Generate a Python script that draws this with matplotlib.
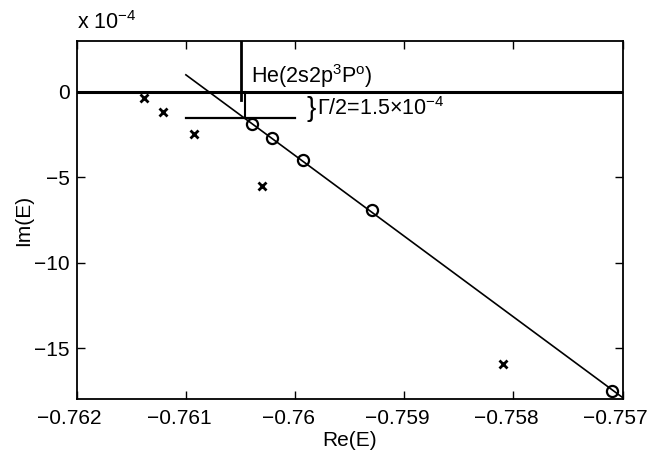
import matplotlib
matplotlib.use("Agg")
import matplotlib.pyplot as plt
from matplotlib.transforms import ScaledTranslation

plt.rcParams['font.family'] = ['Liberation Sans', 'DejaVu Sans']
plt.rcParams['mathtext.fontset'] = 'custom'
plt.rcParams['mathtext.rm'] = 'Liberation Sans'
plt.rcParams['mathtext.it'] = 'Liberation Sans:italic'

# data in units of 1e-4 for Im(E)
circ_re = [-0.760395, -0.760215, -0.759931, -0.7593, -0.757102]
circ_im = [-1.86, -2.68, -4.0, -6.93, -17.5]
cross_re = [-0.761381, -0.761207, -0.760923, -0.760306, -0.758093]
cross_im = [-0.34, -1.18, -2.49, -5.49, -15.95]
fit_re = [-0.761, -0.757]
fit_im = [1.0, -17.9]
half_width = 1.5
thr_re = -0.760495
cross_pt_re = -0.76046

xticks = [-0.762, -0.761, -0.760, -0.759, -0.758, -0.757]
xticklabels = ['\u22120.762', '\u22120.761', '\u22120.76', '\u22120.759', '\u22120.758', '\u22120.757']
yticks = [-15, -10, -5, 0]
yticklabels = ['\u221215', '\u221210', '\u22125', '0']

fig = plt.figure(figsize=(6.51, 4.53), dpi=100)
ax = fig.add_axes([0.1178, 0.1185, 0.8387, 0.7917])

ax.axhline(0, color='k', lw=2.2)
ax.plot([thr_re, thr_re], [3, -0.46], color='k', lw=2.0)
ax.plot([cross_pt_re, cross_pt_re], [0, -half_width], color='k', lw=1.5)
ax.plot([-0.761, -0.760], [-half_width, -half_width], color='k', lw=1.6)
ax.plot(fit_re, fit_im, color='k', lw=1.2)
ax.plot(circ_re, circ_im, 'o', ms=8, mfc='none', mec='k', mew=1.6)
ax.plot(cross_re, cross_im, 'x', ms=6, mec='k', mew=2.0)

ax.text(-0.7604, 0.9, r'He(2s2p$^\mathregular{3}$P$^\mathregular{o}$)', fontsize=15.5, va='center', ha='left')
ax.text(-0.7599, -1.0, '}', fontsize=20, va='center', ha='left')
ax.text(-0.75980, -1.0, r'$\Gamma$/2=1.5$\times$10$^{\mathregular{-4}}$', fontsize=15.5, va='center', ha='left')

ax.set_xlim(-0.762, -0.757)
ax.set_ylim(-18, 3)
ax.set_xticks(xticks)
ax.set_xticklabels(xticklabels)
ax.set_yticks(yticks)
ax.set_yticklabels(yticklabels)
ax.tick_params(direction='in', length=6, width=1, top=True, right=True, labelsize=15)
ax.tick_params(axis='x', pad=7)
ax.tick_params(axis='y', pad=5)
shift = ScaledTranslation(-7 / 100, 0, fig.dpi_scale_trans)
for lab in ax.get_xticklabels():
    lab.set_transform(lab.get_transform() + shift)
for s in ax.spines.values():
    s.set_linewidth(1.3)

ax.set_xlabel('Re(E)', fontsize=15, labelpad=2)
ax.set_ylabel('Im(E)', fontsize=15, labelpad=1)
fig.text(0.1178, 0.925, r'x 10$^{\mathregular{-4}}$', fontsize=15.5, ha='left', va='bottom')

fig.savefig('out.png', dpi=100)
